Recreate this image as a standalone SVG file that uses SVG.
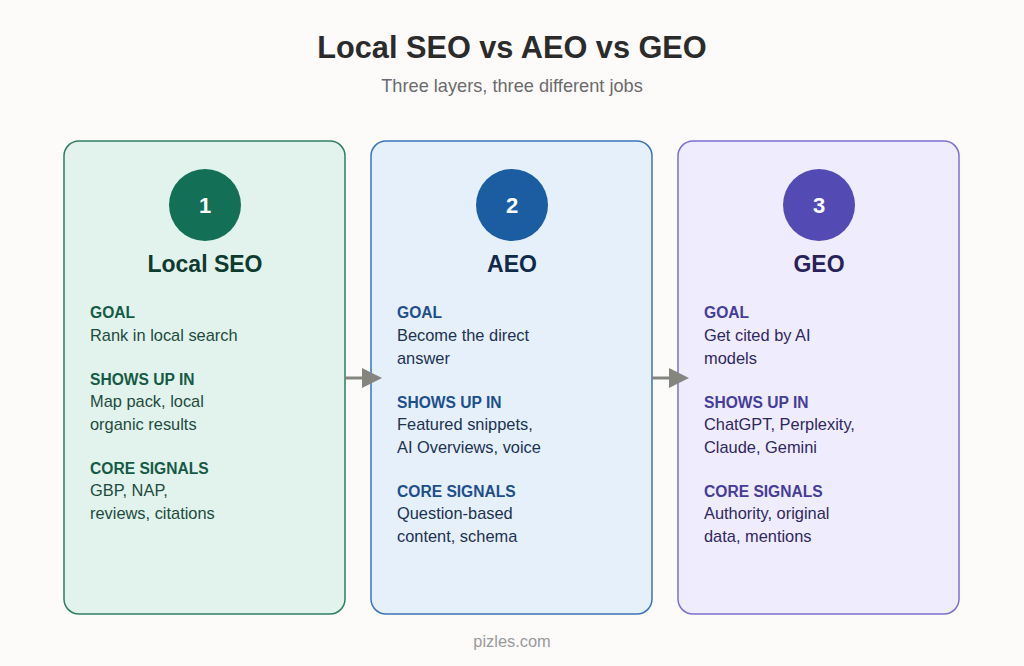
<svg xmlns="http://www.w3.org/2000/svg" width="1024" height="666" viewBox="0 0 1024 666">
<style>
text{font-family:"Liberation Sans",Arial,sans-serif}
.title{font-size:30.7px;font-weight:bold;fill:#2b2b2b;text-anchor:middle}
.sub{font-size:18.2px;fill:#6b6b6b;text-anchor:middle}
.foot{font-size:16.4px;fill:#9a9a9a;text-anchor:middle}
.num{font-size:22px;font-weight:bold;fill:#ffffff;text-anchor:middle}
.name{font-size:23px;font-weight:bold;text-anchor:middle}
.lab{font-size:15.6px;font-weight:bold}
.body{font-size:16.4px}
.g .card{fill:#e1f3ec;stroke:#2f7e63}
.g .circ{fill:#136f55}
.g .name{fill:#0e3b2e}
.g .lab{fill:#165a46}
.g .body{fill:#1f4a3d}
.b .card{fill:#e5f0fb;stroke:#3b74b8}
.b .circ{fill:#1c5da2}
.b .name{fill:#10294a}
.b .lab{fill:#1d4f8c}
.b .body{fill:#1c3250}
.p .card{fill:#eeecfd;stroke:#7c70d1}
.p .circ{fill:#534bb3}
.p .name{fill:#29215a}
.p .lab{fill:#463c99}
.p .body{fill:#2e2860}
.card{stroke-width:1.5}
.conn line{stroke:#858580;stroke-width:3}
</style>
<defs>
<marker id="ah" markerWidth="20" markerHeight="20" viewBox="0 0 20 20" refX="0" refY="10" orient="auto" markerUnits="userSpaceOnUse">
<path d="M0,0 L20,10 L0,20 Z" fill="#858580"/>
</marker>
</defs>
<rect width="1024" height="666" fill="#fcfbfa"/>
<text class="title" x="512" y="58">Local SEO vs AEO vs GEO</text>
<text class="sub" x="512" y="92">Three layers, three different jobs</text>

<g id="node-local-seo" class="g">
<rect class="card" x="64" y="141" width="281" height="473" rx="15"/>
<circle class="circ" cx="205" cy="205" r="36"/>
<text class="num" x="205" y="213">1</text>
<text class="name" x="205" y="272">Local SEO</text>
<text class="lab" x="90" y="318">GOAL</text>
<text class="body" x="90" y="341">Rank in local search</text>
<text class="lab" x="90" y="385">SHOWS UP IN</text>
<text class="body" x="90" y="407">Map pack, local</text>
<text class="body" x="90" y="430">organic results</text>
<text class="lab" x="90" y="474">CORE SIGNALS</text>
<text class="body" x="90" y="496">GBP, NAP,</text>
<text class="body" x="90" y="519">reviews, citations</text>
</g>

<g id="node-aeo" class="b">
<rect class="card" x="371" y="141" width="281" height="473" rx="15"/>
<circle class="circ" cx="512" cy="205" r="36"/>
<text class="num" x="512" y="213">2</text>
<text class="name" x="512" y="272">AEO</text>
<text class="lab" x="397" y="318">GOAL</text>
<text class="body" x="397" y="341">Become the direct</text>
<text class="body" x="397" y="364">answer</text>
<text class="lab" x="397" y="408">SHOWS UP IN</text>
<text class="body" x="397" y="430">Featured snippets,</text>
<text class="body" x="397" y="453">AI Overviews, voice</text>
<text class="lab" x="397" y="497">CORE SIGNALS</text>
<text class="body" x="397" y="519">Question-based</text>
<text class="body" x="397" y="542">content, schema</text>
</g>

<g id="node-geo" class="p">
<rect class="card" x="678" y="141" width="281" height="473" rx="15"/>
<circle class="circ" cx="819" cy="205" r="36"/>
<text class="num" x="819" y="213">3</text>
<text class="name" x="819" y="272">GEO</text>
<text class="lab" x="704" y="318">GOAL</text>
<text class="body" x="704" y="341">Get cited by AI</text>
<text class="body" x="704" y="364">models</text>
<text class="lab" x="704" y="408">SHOWS UP IN</text>
<text class="body" x="704" y="430">ChatGPT, Perplexity,</text>
<text class="body" x="704" y="453">Claude, Gemini</text>
<text class="lab" x="704" y="497">CORE SIGNALS</text>
<text class="body" x="704" y="519">Authority, original</text>
<text class="body" x="704" y="542">data, mentions</text>
</g>

<g id="connectors" class="conn">
<line x1="345" y1="378" x2="362" y2="378" marker-end="url(#ah)"/>
<line x1="652" y1="378" x2="669" y2="378" marker-end="url(#ah)"/>
</g>

<text class="foot" x="512" y="647">pizles.com</text>
</svg>
